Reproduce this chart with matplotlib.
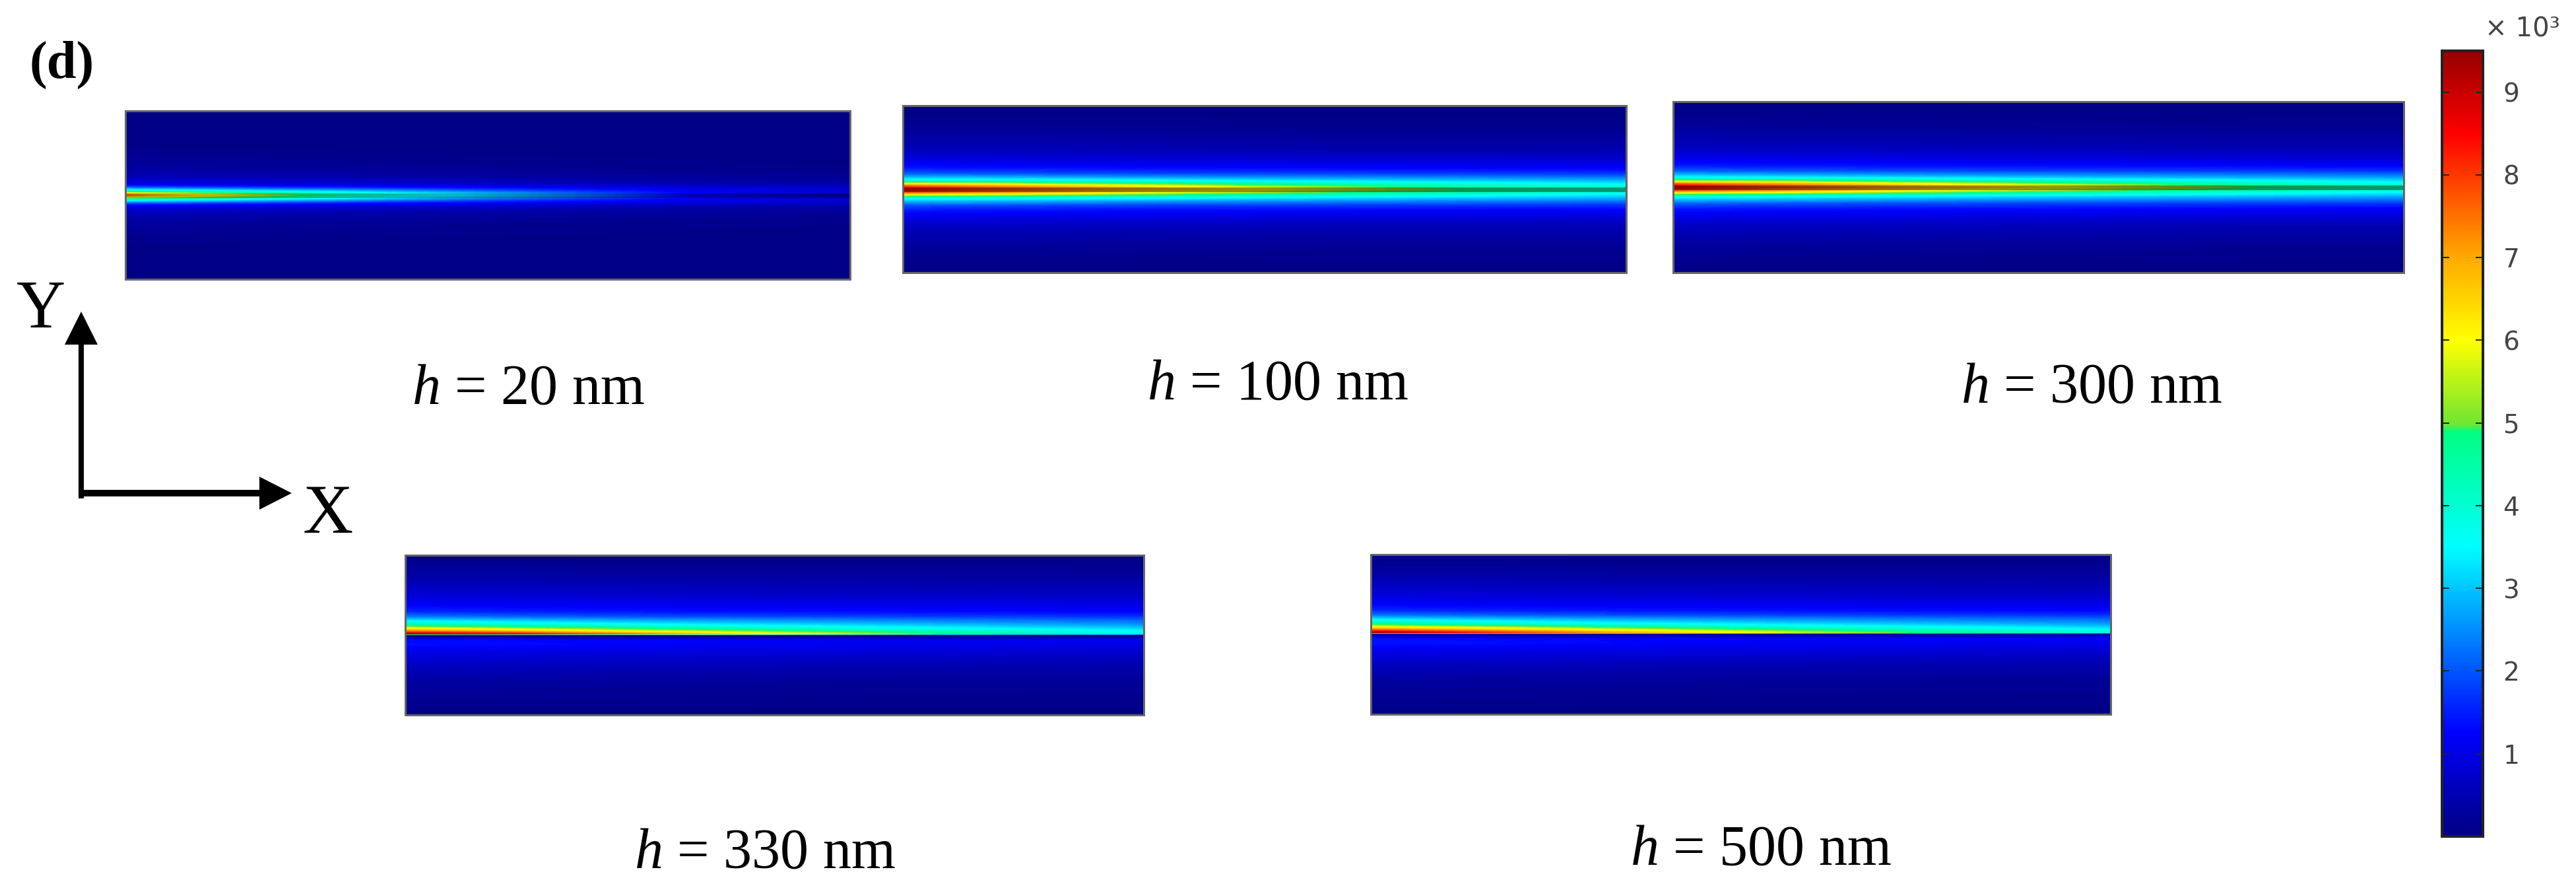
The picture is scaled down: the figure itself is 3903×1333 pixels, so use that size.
from matplotlib import pyplot as plt
from matplotlib.colors import LinearSegmentedColormap, Normalize
from matplotlib.cm import ScalarMappable
from matplotlib.patches import FancyArrow
import numpy as np

plt.rcParams['font.family'] = ['Liberation Serif', 'DejaVu Serif']
plt.rcParams['mathtext.fontset'] = 'custom'
plt.rcParams['mathtext.it'] = 'Liberation Serif:italic'
plt.rcParams['mathtext.rm'] = 'Liberation Serif'

W, H = 3903, 1333
PX = 0.72  # one pixel in points at dpi=100

# Field readings, in units of 10^3, from the colours in the picture.
# rows = distance in px from the film line (up is positive), columns = stations along X
labels = ["20", "100", "300", "330", "500"]
vmin, vmax = 0, 9.5
bar_ticks = [1, 2, 3, 4, 5, 6, 7, 8, 9]

# first three panels are symmetric about the film, so only the upper half is listed
x_20 = [0, 0.12, 0.3, 0.55, 0.8, 1]
y_20 = [127, 70, 40, 25, 16, 12, 8, 5, 2, 0]
z_20 = [[0, .08, .3, .6, 1.1, 1.9, 3.4, 4.7, 6.6, 7.6],
        [0, .07, .25, .55, 1.0, 1.7, 3.0, 4.2, 5.4, 6.0],
        [0, .05, .2, .45, .9, 1.4, 2.4, 3.3, 4.1, 4.5],
        [0, .04, .15, .35, .7, 1.1, 1.6, 2.1, 2.6, 2.9],
        [0, .03, .1, .25, .5, .8, 1.05, 1.1, 1.05, 1.0],
        [0, .02, .08, .2, .4, .6, .8, .8, .5, .15]]

x_100 = [0, 0.15, 0.35, 0.6, 0.8, 1]
y_100 = [127, 90, 60, 45, 32, 24, 18, 14, 11, 8, 5, 2, 0]
z_100 = [[0, .2, .55, .95, 1.4, 2.0, 2.9, 3.6, 4.6, 6.0, 7.6, 8.4, 8.5],
         [0, .2, .55, .9, 1.35, 1.9, 2.8, 3.5, 4.4, 5.6, 6.9, 7.6, 7.8],
         [0, .18, .5, .85, 1.3, 1.8, 2.6, 3.3, 4.0, 4.9, 5.8, 6.5, 6.7],
         [0, .15, .45, .8, 1.25, 1.75, 2.45, 3.0, 3.6, 4.2, 4.8, 5.3, 5.6],
         [0, .15, .45, .8, 1.2, 1.7, 2.35, 2.85, 3.3, 3.7, 4.2, 4.6, 4.8],
         [0, .15, .45, .75, 1.2, 1.65, 2.25, 2.7, 3.05, 3.35, 3.7, 4.1, 4.3]]

x_300 = [0, 0.15, 0.35, 0.6, 0.8, 1]
y_300 = [129, 90, 60, 45, 32, 24, 18, 14, 11, 8, 5, 2, 0]
z_300 = [[0, .25, .6, 1.0, 1.45, 2.1, 3.0, 3.7, 4.7, 6.1, 7.7, 8.5, 8.6],
         [0, .22, .58, .95, 1.4, 2.0, 2.85, 3.5, 4.4, 5.7, 7.0, 7.7, 7.9],
         [0, .2, .55, .9, 1.35, 1.9, 2.65, 3.3, 4.0, 4.9, 5.9, 6.6, 6.8],
         [0, .18, .5, .85, 1.3, 1.8, 2.5, 3.0, 3.6, 4.2, 4.9, 5.4, 5.7],
         [0, .15, .45, .8, 1.25, 1.75, 2.4, 2.85, 3.3, 3.8, 4.3, 4.7, 4.9],
         [0, .15, .45, .8, 1.2, 1.7, 2.3, 2.7, 3.05, 3.35, 3.75, 4.15, 4.35]]

x_330 = [0, 0.15, 0.35, 0.6, 1]
y_330 = [121, 90, 60, 45, 35, 28, 22, 17, 13, 10, 7, 4, 2, 0, -2, -5, -8, -14, -25, -45, -70, -121]
z_330 = [[0, .35, .85, 1.2, 1.6, 2.3, 3.3, 4.3, 5.0, 6.0, 7.0, 8.2, 9.4, .3, .1, .6, 1.3, 1.35, 1.0, .65, .3, .03],
         [0, .35, .8, 1.15, 1.5, 2.1, 3.0, 3.8, 4.6, 5.4, 6.3, 7.6, 8.4, .3, .1, .6, 1.25, 1.3, .95, .6, .28, .03],
         [0, .3, .75, 1.1, 1.4, 1.9, 2.7, 3.3, 4.0, 4.6, 5.3, 6.3, 7.0, .3, .1, .6, 1.2, 1.2, .9, .55, .25, .03],
         [0, .28, .7, 1.05, 1.35, 1.8, 2.45, 2.95, 3.4, 3.8, 4.3, 5.0, 5.4, .3, .1, .6, 1.1, 1.1, .85, .5, .22, .03],
         [0, .25, .65, 1.0, 1.25, 1.65, 2.15, 2.5, 2.8, 3.1, 3.4, 3.6, 3.7, .3, .1, .7, 1.05, 1.0, .75, .45, .2, .03]]

x_500 = [0, 0.15, 0.35, 0.6, 1]
y_500 = [120, 90, 60, 45, 35, 28, 22, 17, 13, 10, 7, 4, 2, 0, -2, -5, -8, -14, -25, -45, -70, -122]
z_500 = [[0, .35, .85, 1.2, 1.6, 2.3, 3.3, 4.3, 5.1, 6.1, 7.2, 8.4, 9.3, .5, .2, .7, 1.35, 1.4, 1.05, .65, .3, .03],
         [0, .35, .8, 1.15, 1.5, 2.1, 3.0, 3.8, 4.6, 5.5, 6.4, 7.5, 8.2, .5, .2, .7, 1.3, 1.35, 1.0, .6, .28, .03],
         [0, .3, .75, 1.1, 1.4, 1.9, 2.7, 3.3, 4.0, 4.7, 5.4, 6.3, 6.9, .5, .2, .7, 1.25, 1.25, .95, .55, .25, .03],
         [0, .28, .7, 1.05, 1.35, 1.8, 2.45, 2.95, 3.4, 3.9, 4.4, 5.0, 5.4, .5, .2, .7, 1.15, 1.15, .9, .5, .22, .03],
         [0, .25, .65, 1.0, 1.25, 1.65, 2.15, 2.5, 2.8, 3.1, 3.4, 3.7, 3.8, .5, .2, .8, 1.1, 1.05, .8, .45, .2, .03]]

# colour bar stops as they sit against the tick values
stop_values = [0, 1.25, 3.5, 4.9, 4.98, 6, 7, 8.5, 9.5]
stop_colors = ["#000082", "#0000ff", "#00ffff", "#00ff80", "#6ee632", "#ffff00", "#ffaa00", "#ff0000", "#960000"]

# layout, px in the figure: left, top, right, bottom
boxes = [(190, 168, 1288, 423), (1368, 160, 2464, 413), (2535, 154, 3642, 413),
         (614, 841, 1733, 1083), (2077, 840, 3198, 1082)]
film_alpha = [0.25, 0.4, 0.4, 0, 0]
text_xy = [(624, 612), (1738, 605), (2971, 610), (961, 1315), (2470, 1310)]

cmap = LinearSegmentedColormap.from_list("field", list(zip([(v - vmin) / (vmax - vmin) for v in stop_values], stop_colors)), N=512)
norm = Normalize(vmin, vmax)
levels = np.linspace(vmin, vmax, 129)


def add_box(fig, left, top, right, bottom):
    return fig.add_axes([left / W, 1 - bottom / H, (right - left) / W, (bottom - top) / H])


def mirror(y, z):
    # upper half listed only, reflect it to the lower half
    z = np.array(z)
    return np.r_[y, [-v for v in y[-2::-1]]], np.c_[z, z[:, -2::-1]]


fig = plt.figure(figsize=(W / 100, H / 100), dpi=100, facecolor="white")

y1, z1 = mirror(y_20, z_20)
y2, z2 = mirror(y_100, z_100)
y3, z3 = mirror(y_300, z_300)
fields = [(x_20, y1, z1), (x_100, y2, z2), (x_300, y3, z3),
          (x_330, y_330, np.array(z_330)), (x_500, y_500, np.array(z_500))]

for box, (x, y, z), alpha in zip(boxes, fields, film_alpha):
    ax = add_box(fig, *box)
    order = np.argsort(y)
    # z has one row per x station, contourf wants one row per y
    ax.contourf(x, np.asarray(y)[order], z.T[order], levels=levels, cmap=cmap, norm=norm)
    if alpha:
        ax.axhline(0, color="black", alpha=alpha, lw=7 * PX)
    ax.set_xticks([])
    ax.set_yticks([])
    for s in ax.spines.values():
        s.set_color("#666666")
        s.set_linewidth(3 * PX)

# colour bar
cax = add_box(fig, 3700, 77, 3762, 1267)
cb = fig.colorbar(ScalarMappable(norm=norm, cmap=cmap), cax=cax, ticks=bar_ticks)
cb.outline.set_edgecolor("#222222")
cb.outline.set_linewidth(4 * PX)
cax.tick_params(left=True, right=True, direction="in", length=11 * PX, width=2 * PX, color="#222222",
                labelsize=28, labelcolor="#444444", pad=22)
for t in cax.get_yticklabels():
    t.set_family("DejaVu Sans")

# overlay in figure pixels for the loose text and the axis arrows
over = fig.add_axes([0, 0, 1, 1], facecolor="none")
over.set_xlim(0, W)
over.set_ylim(H, 0)
over.axis("off")

over.text(3765, 44, "× 10³", fontsize=29, color="#444444", family="DejaVu Sans", va="center", ha="left")
over.text(45, 118, "(d)", fontsize=58, fontweight="bold", va="baseline")
for (tx, ty), lab in zip(text_xy, labels):
    over.text(tx, ty, r"$\mathit{h}$ = " + lab + " nm", fontsize=62, va="baseline")
over.text(25, 496, "Y", fontsize=74, va="baseline")
over.text(459, 807, "X", fontsize=76, va="baseline")

over.add_patch(FancyArrow(123, 755, 0, -283, width=8, head_width=50, head_length=50,
                          length_includes_head=True, fc="black", ec="none"))
over.add_patch(FancyArrow(119, 747, 323, 0, width=10, head_width=50, head_length=49,
                          length_includes_head=True, fc="black", ec="none"))

fig.savefig("out.png", dpi=100)
